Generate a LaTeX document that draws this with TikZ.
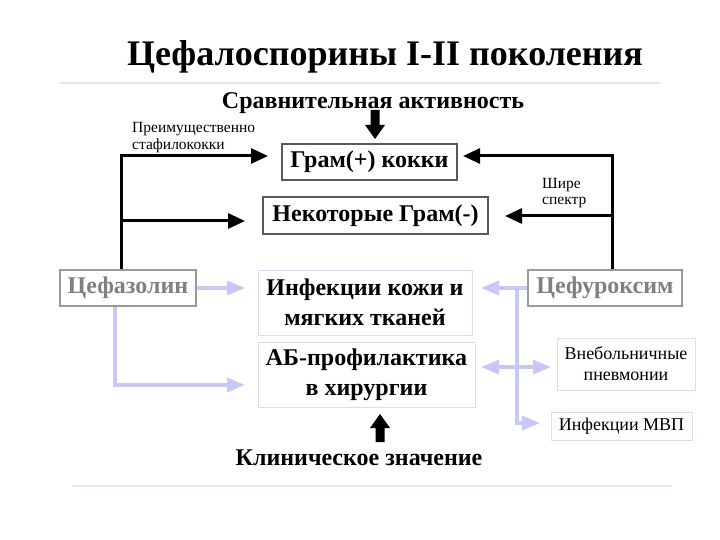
\documentclass[tikz,border=0pt]{standalone}
\usepackage{fontspec}
\setmainfont{Liberation Serif}
\usetikzlibrary{arrows.meta}
\definecolor{lav}{HTML}{C8C8F8}
\definecolor{lavbox}{HTML}{DCDCF0}
\definecolor{rulec}{HTML}{E4E4EE}
\definecolor{graytxt}{HTML}{808080}
\begin{document}
\begin{tikzpicture}[x=1pt,y=-1pt,
  big/.style={font=\bfseries\fontsize{24}{30}\selectfont},
  blkbox/.style={big,draw=black!65,line width=1.2pt,inner sep=0pt},
  graybox/.style={big,draw=black!40,line width=1.2pt,inner sep=0pt,text=graytxt},
  lavbox/.style={big,draw=lavbox,line width=1pt,inner sep=0pt,align=center},
  smallbox/.style={draw=lavbox,line width=1pt,inner sep=0pt,align=center,font=\fontsize{18}{21}\selectfont},
  blk/.style={line width=3pt,-{Triangle[length=17pt,width=15pt]}},
  lavl/.style={draw=lav,line width=3.5pt},
  lava/.style={lavl,-{Triangle[length=18pt,width=14pt]}},
  small/.style={font=\fontsize{15.5}{17}\selectfont,align=left,inner sep=0pt},
  barrow/.style={fill=black,draw=none}]
\useasboundingbox (0,0) rectangle (720,540);
% title and rules
\node[anchor=base,inner sep=0pt,font=\bfseries\fontsize{36}{40}\selectfont] (title) at (385,66) {Цефалоспорины I-II поколения};
\draw[rulec,line width=2pt] (60,83) coordinate (r1a) -- (660,83) coordinate (r1b);
\draw[rulec,line width=2pt] (72,486) coordinate (r2a) -- (672,486) coordinate (r2b);
\node[anchor=base,inner sep=0pt,big] (comp) at (373,109) {Сравнительная активность};
\node[anchor=base,inner sep=0pt,big] (clin) at (359,465) {Клиническое значение};
% boxes
\node[blkbox,minimum width=175pt,minimum height=36pt] (gp) at (369.5,162) {Грам(+) кокки};
\node[blkbox,minimum width=225pt,minimum height=37pt] (gn) at (375.5,215.5) {Некоторые Грам(-)};
\node[graybox,minimum width=136pt,minimum height=36pt] (cz) at (128,288) {Цефазолин};
\node[graybox,minimum width=154pt,minimum height=36pt] (cf) at (605,288) {Цефуроксим};
\node[lavbox,minimum width=214pt,minimum height=65pt] (skin) at (365,302.5) {Инфекции кожи и\\мягких тканей};
\node[lavbox,minimum width=217pt,minimum height=65pt] (ab) at (366.5,374.5) {АБ-профилактика\\в хирургии};
\node[smallbox,minimum width=138pt,minimum height=52pt] (pn) at (626,364) {Внебольничные\\пневмонии};
\node[smallbox,minimum width=141pt,minimum height=28pt] (mvp) at (621.5,426) {Инфекции МВП};
% small labels
\node[small,anchor=base west] (pr1) at (132,150) {Преимущественно\\стафилококки};
\node[small,anchor=base west] (sh1) at (542,205) {Шире\\спектр};
% block arrows
\fill[barrow] (370.5,110) -- (379.5,110) -- (379.5,125) -- (385,125) -- (375,139) -- (365,125) -- (370.5,125) -- cycle;
\fill[barrow] (375.5,442) -- (384.5,442) -- (384.5,428) -- (390,428) -- (380,414) -- (370,428) -- (375.5,428) -- cycle;
% black connectors
\coordinate (lc1) at (121,156);
\coordinate (lc2) at (121,221);
\coordinate (rc1) at (612,156);
\coordinate (rc2) at (612,216);
\coordinate (gpL) at (268,156);
\coordinate (gnL) at (245,221);
\coordinate (gpR) at (463,156);
\coordinate (gnR) at (505,216);
\draw[line width=3pt] (cz.north -| lc1) -- ([yshift=1.5pt]lc1);
\draw[blk] (lc1) -- (gpL);
\draw[blk] (lc2) -- (gnL);
\draw[line width=3pt] (cf.north -| rc1) -- ([yshift=1.5pt]rc1);
\draw[blk] (rc1) -- (gpR);
\draw[blk] (rc2) -- (gnR);
% lavender connectors
\coordinate (skL) at (245,288);
\coordinate (czd) at (115,385);
\coordinate (abL) at (245,385);
\coordinate (skR) at (481,288);
\coordinate (vt) at (517,288);
\coordinate (vb) at (517,423);
\coordinate (abR) at (481,367);
\coordinate (pnL) at (551,367);
\coordinate (mvL) at (540,423);
\draw[lava] (cz.east) -- (skL);
\draw[lava] (cz.south -| czd) -- (czd) -- (abL);
\draw[lava] (cf.west) -- (skR);
\draw[lava] (vt) -- (vb) -- (mvL);
\draw[lava] (vt |- abR) -- (abR);
\draw[lava] (vt |- pnL) -- (pnL);
\end{tikzpicture}
\end{document}
